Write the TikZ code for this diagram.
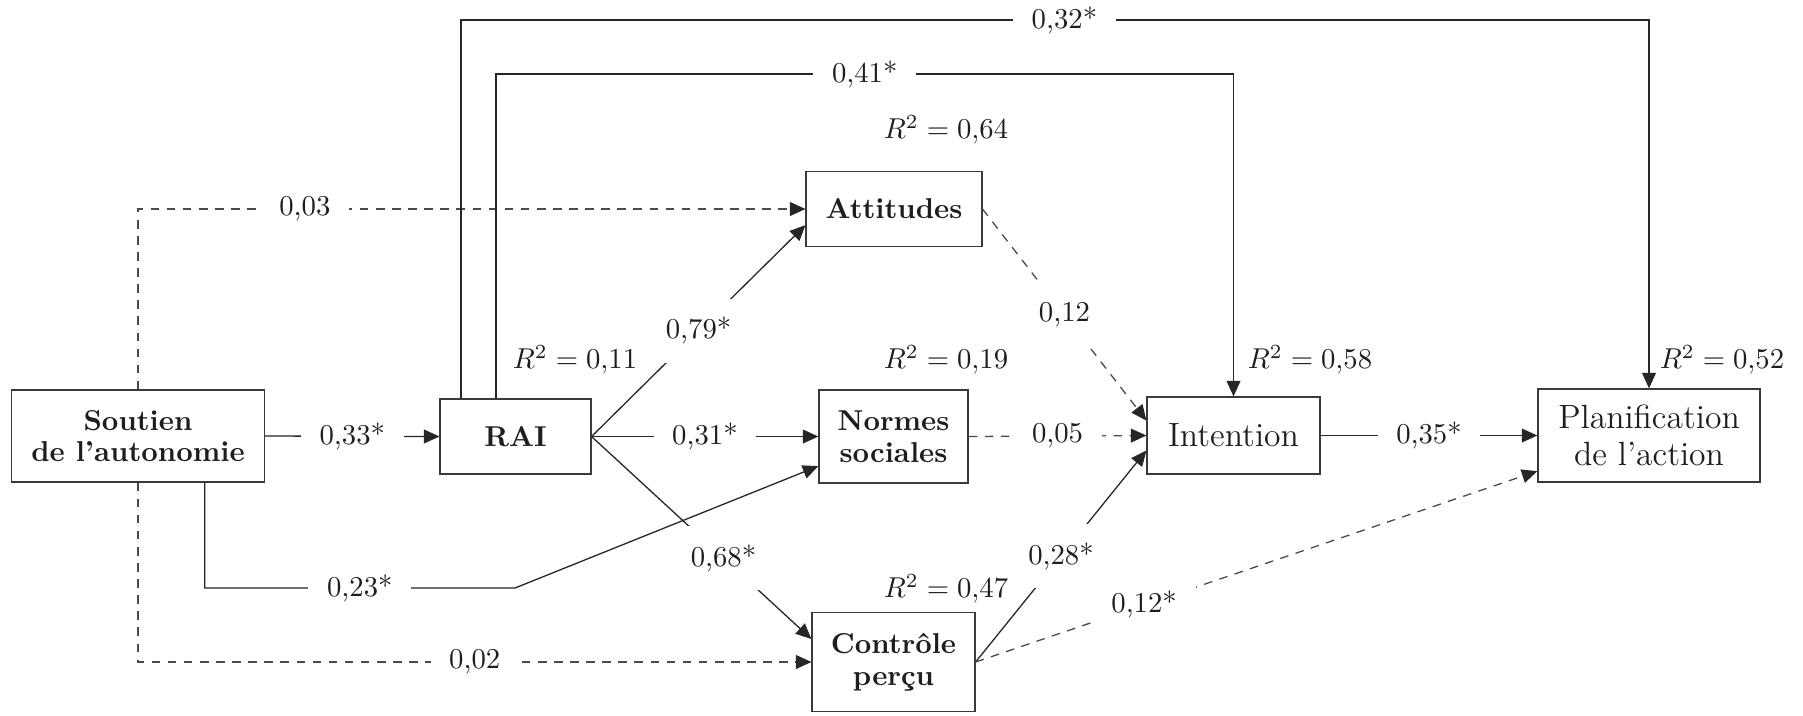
\documentclass[tikz,border=0pt]{standalone}
\usetikzlibrary{arrows.meta,calc}
\definecolor{ln}{HTML}{262626}
\definecolor{bx}{HTML}{3A3A3A}
\definecolor{dl}{HTML}{4A4A4A}
\definecolor{tx}{HTML}{1E1E1E}
\begin{document}
\begin{tikzpicture}[x=0.348pt,y=-0.348pt,
  box/.style={draw=bx, line width=0.42pt, fill=white, align=center, text=tx, inner sep=2pt},
  bbox/.style={box, font=\fontsize{10}{11}\selectfont\bfseries},
  rbox/.style={box, font=\fontsize{11.7}{12.8}\selectfont},
  lbl/.style={fill=white, inner sep=6.5pt, text=tx, font=\fontsize{10}{12}\selectfont},
  rsq/.style={text=tx, font=\fontsize{10}{12}\selectfont, inner sep=0pt},
  arr/.style={draw=ln, line width=0.45pt, -{Triangle[length=5.4pt,width=4.8pt,color=ln]}},
  darr/.style={arr, draw=dl, dash pattern=on 3pt off 2.6pt}]
\useasboundingbox[fill=white] (0,0) rectangle (1803,715);

% boxes
\node[bbox, minimum width=88pt, minimum height=32pt] (sout) at (138,436) {Soutien\\de l'autonomie};
\node[bbox, minimum width=52.5pt, minimum height=26.1pt] (rai) at (515.5,436.5) {RAI};
\node[bbox, minimum width=61.2pt, minimum height=26.1pt] (att) at (894,209) {Attitudes};
\node[bbox, minimum width=51.9pt, minimum height=32.4pt] (nor) at (893.5,436.5) {Normes\\sociales};
\node[bbox, minimum width=56.7pt, minimum height=34.2pt] (ctl) at (893.5,662) {Contrôle\\perçu};
\node[rbox, minimum width=60.2pt, minimum height=26.8pt] (int) at (1233.5,435.5) {Intention};
\node[rbox, minimum width=77.3pt, minimum height=32.4pt] (pla) at (1649,435.5) {Planification\\de l'action};

% R2 labels
\node[rsq] (r64) at (946,130) {$R^2 = 0{,}64$};
\node[rsq] (r11) at (575,360) {$R^2 = 0{,}11$};
\node[rsq] (r19) at (946,360) {$R^2 = 0{,}19$};
\node[rsq] (r58) at (1310,360) {$R^2 = 0{,}58$};
\node[rsq] (r52) at (1722,360) {$R^2 = 0{,}52$};
\node[rsq] (r47) at (946,589) {$R^2 = 0{,}47$};

% helper coordinates
\coordinate (k23) at (515,588);
\coordinate (y32) at (0,20);
\coordinate (y41) at (0,74);

% connectors
\draw[arr] (sout.east) -- node[lbl] (l33) {0,33*} (rai.west);
\draw[darr] (sout.north) |- node[lbl,pos=0.625] (l03) {0,03} (att.west);
\draw[darr] (sout.south) |- node[lbl,pos=0.75] (l02) {0,02} (ctl.west);
\draw[arr] (rai.east) -- node[lbl] (l79) {0,79*} ([yshift=-5.6pt]att.west);
\draw[arr] (rai.east) -- node[lbl] (l31) {0,31*} (nor.west);
\draw[arr] (rai.east) -- node[lbl,pos=0.6] (l68) {0,68*} ([yshift=8pt]ctl.west);
\draw[arr] ([xshift=23.2pt]sout.south) |- node[lbl,pos=0.75] (l23) {0,23*} (k23) -- ([yshift=-10.3pt]nor.west);
\draw[arr] ([xshift=-19pt]rai.north) |- node[lbl,pos=0.754] (l32) {0,32*} (pla.north |- y32) -- (pla.north);
\draw[arr] ([xshift=-6.8pt]rai.north) |- node[lbl,pos=0.75] (l41) {0,41*} (int.north |- y41) -- (int.north);
\draw[darr] (att.east) -- node[lbl] (l12) {0,12} ([yshift=5.2pt]int.west);
\draw[darr] (nor.east) -- node[lbl] (l05) {0,05} (int.west);
\draw[arr] (ctl.east) -- node[lbl] (l28) {0,28*} ([yshift=-5.2pt]int.west);
\draw[darr] (ctl.east) -- node[lbl,pos=0.3] (l12s) {0,12*} ([yshift=-12.4pt]pla.west);
\draw[arr] (int.east) -- node[lbl] (l35) {0,35*} (pla.west);
\end{tikzpicture}
\end{document}
